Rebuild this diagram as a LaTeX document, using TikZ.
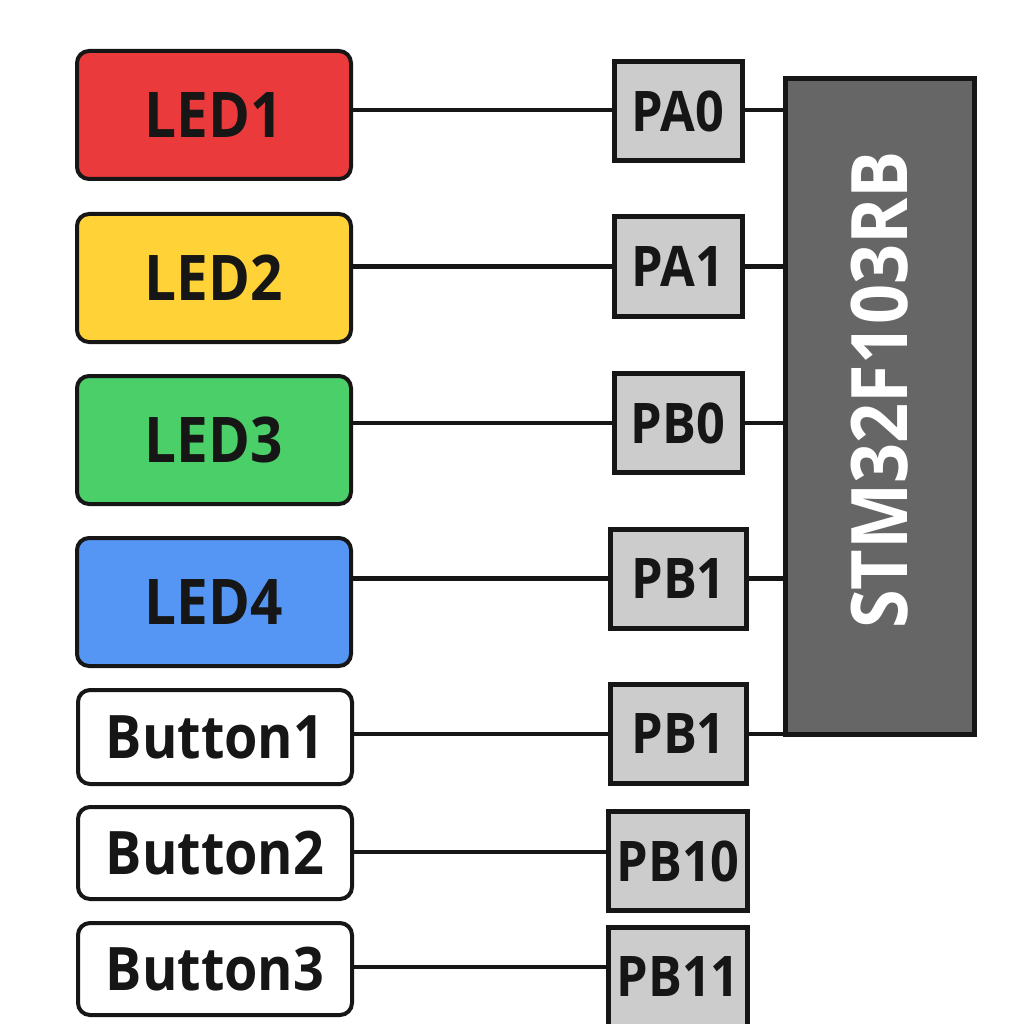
\documentclass[tikz,border=0pt]{standalone}
\usepackage{fontspec}
\setmainfont{Open Sans}[BoldFeatures={FakeStretch=0.9}]
\definecolor{ledred}{RGB}{235,58,60}
\definecolor{ledyellow}{RGB}{255,210,55}
\definecolor{ledgreen}{RGB}{75,208,105}
\definecolor{ledblue}{RGB}{85,150,245}
\definecolor{pingray}{RGB}{204,204,204}
\definecolor{chipgray}{RGB}{102,102,102}
\definecolor{ink}{RGB}{22,22,22}
\begin{document}
\begin{tikzpicture}[x=1pt,y=-1pt,
  dev/.style={draw=ink,line width=4pt,rounded corners=12pt,minimum width=274pt,inner sep=0pt,text=ink,font=\fontsize{63}{63}\selectfont\bfseries},
  btn/.style={dev,fill=white,font=\fontsize{60}{60}\selectfont\bfseries},
  pin/.style={draw=ink,line width=5pt,fill=pingray,minimum width=128pt,minimum height=99pt,inner sep=0pt,text=ink,font=\fontsize{56}{56}\selectfont\bfseries},
  wire/.style={draw=ink,line width=4.5pt}]
\useasboundingbox (0,0) rectangle (1024,1024);
\fill[white] (0,0) rectangle (1024,1024);
% devices
\node[dev,fill=ledred,minimum height=128pt] (led1) at (214,115) {LED1};
\node[dev,fill=ledyellow,minimum height=128pt] (led2) at (214,278) {LED2};
\node[dev,fill=ledgreen,minimum height=128pt] (led3) at (214,440) {LED3};
\node[dev,fill=ledblue,minimum height=128pt] (led4) at (214,602) {LED4};
\node[btn,minimum height=94pt] (b1) at (215,737) {Button1};
\node[btn,minimum height=92pt] (b2) at (215,853) {Button2};
\node[btn,minimum height=92pt] (b3) at (215,969) {Button3};
% pins
\node[pin] (pa0) at (678,111.5) {PA0};
\node[pin] (pa1) at (678,266.5) {PA1};
\node[pin] (pb0) at (678,423) {PB0};
\node[pin,minimum width=136pt] (pb1a) at (678.5,578.5) {PB1};
\node[pin,minimum width=136pt] (pb1b) at (678.5,734) {PB1};
\node[pin,minimum width=139pt] (pb10) at (678,861) {PB10};
\node[pin,minimum width=139pt,minimum height=106pt] (pb11) at (678,980) {};
\node[text=ink,font=\fontsize{56}{56}\selectfont\bfseries] (pb11t) at (678,976) {PB11};
% chip
\node[draw=ink,line width=5pt,fill=chipgray,minimum width=189pt,minimum height=655pt,inner sep=0pt] (chip) at (879.5,406.5) {};
\node[rotate=90,text=white,font=\fontsize{78}{78}\selectfont\bfseries] (chipname) at (880,390) {STM32F103RB};
% wires device -> pin
\draw[wire] (led1.east |- 0,110) -- (pa0.west |- 0,110);
\draw[wire] (led2.east |- pa1) -- (pa1.west);
\draw[wire] (led3.east |- pb0) -- (pb0.west);
\draw[wire] (led4.east |- pb1a) -- (pb1a.west);
\draw[wire] (b1.east |- pb1b) -- (pb1b.west);
\draw[wire] (b2.east |- 0,852) -- (pb10.west |- 0,852);
\draw[wire] (b3.east |- 0,967) -- (pb11.west |- 0,967);
% wires pin -> chip
\draw[wire] (pa0.east |- 0,110) -- (chip.west |- 0,110);
\draw[wire] (pa1.east) -- (pa1.east -| chip.west);
\draw[wire] (pb0.east) -- (pb0.east -| chip.west);
\draw[wire] (pb1a.east) -- (pb1a.east -| chip.west);
\draw[wire] (pb1b.east) -- (pb1b.east -| chip.west);
\end{tikzpicture}
\end{document}
